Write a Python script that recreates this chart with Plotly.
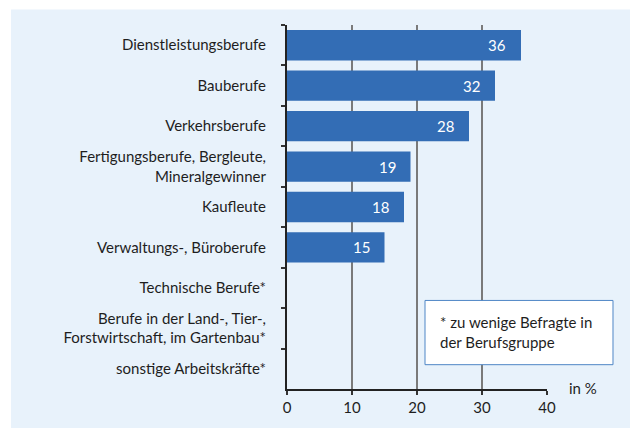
import plotly.graph_objects as go

categories = [
    "Dienstleistungsberufe",
    "Bauberufe",
    "Verkehrsberufe",
    "Fertigungsberufe, Bergleute,<br>Mineralgewinner",
    "Kaufleute",
    "Verwaltungs-, Büroberufe",
    "Technische Berufe*",
    "Berufe in der Land-, Tier-,<br>Forstwirtschaft, im Gartenbau*",
    "sonstige Arbeitskräfte*",
]
values = [36, 32, 28, 19, 18, 15, None, None, None]
x_ticks = [0, 10, 20, 30, 40]
note_text = "* zu wenige Befragte in<br>der Berufsgruppe"
unit_label = "in %"

FONT = "Lato"
FS = 15
BG = "#e8f2fb"
BAR = "#336db5"
TXT = "#1e1e1e"

fig = go.Figure()
fig.add_trace(go.Bar(
    x=values, y=categories, orientation="h",
    marker=dict(color=BAR, line=dict(width=0)),
    width=0.75, hoverinfo="skip",
))

for c, v in zip(categories, values):
    if v is not None:
        fig.add_annotation(x=v, y=c, xref="x", yref="y", text=str(v),
                           showarrow=False, xanchor="right", xshift=-13,
                           font=dict(family=FONT, size=FS, color="white"))

# panel background
fig.add_shape(type="rect", xref="paper", yref="paper",
              x0=-1.0615, x1=1.5, y0=-0.5, y1=1.0428,
              fillcolor=BG, line=dict(width=0), layer="below")

# note box
fig.add_shape(type="rect", xref="paper", yref="paper",
              x0=0.5308, x1=1.2538, y0=0.0668, y1=0.2433,
              fillcolor="white", line=dict(color="#4f86c6", width=1), layer="above")
fig.add_annotation(x=0.5808, y=0.1578, xref="paper", yref="paper",
                   text=note_text, showarrow=False, xanchor="left", yanchor="middle",
                   align="left", font=dict(family=FONT, size=FS, color=TXT))
fig.add_annotation(x=1, y=0, xref="paper", yref="paper", text=unit_label,
                   showarrow=False, xanchor="left", yanchor="middle", xshift=20, yshift=1,
                   font=dict(family=FONT, size=FS, color=TXT))

fig.update_layout(
    width=630, height=428,
    margin=dict(l=287, r=83, t=25, b=29, pad=0),
    paper_bgcolor="white", plot_bgcolor=BG,
    showlegend=False, bargap=0.25,
    font=dict(family=FONT, size=FS, color=TXT),
)
fig.update_xaxes(
    range=[0, 40], tickvals=x_ticks, ticks="outside", ticklen=4, tickwidth=1.5,
    tickcolor="#333", showline=True, linecolor="#222", linewidth=1.5,
    showgrid=True, gridcolor="#7a7a7a", gridwidth=2, zeroline=False,
    tickfont=dict(family=FONT, size=FS, color=TXT), fixedrange=True,
)
fig.update_yaxes(
    categoryorder="array", categoryarray=categories, autorange="reversed",
    ticks="outside", tickson="boundaries", ticklen=4, tickwidth=1.5, tickcolor="#333",
    showline=True, linecolor="#222", linewidth=2, showgrid=False, zeroline=False,
    ticklabelstandoff=16, tickfont=dict(family=FONT, size=FS, color=TXT), fixedrange=True,
)

fig.write_html("out.html")
